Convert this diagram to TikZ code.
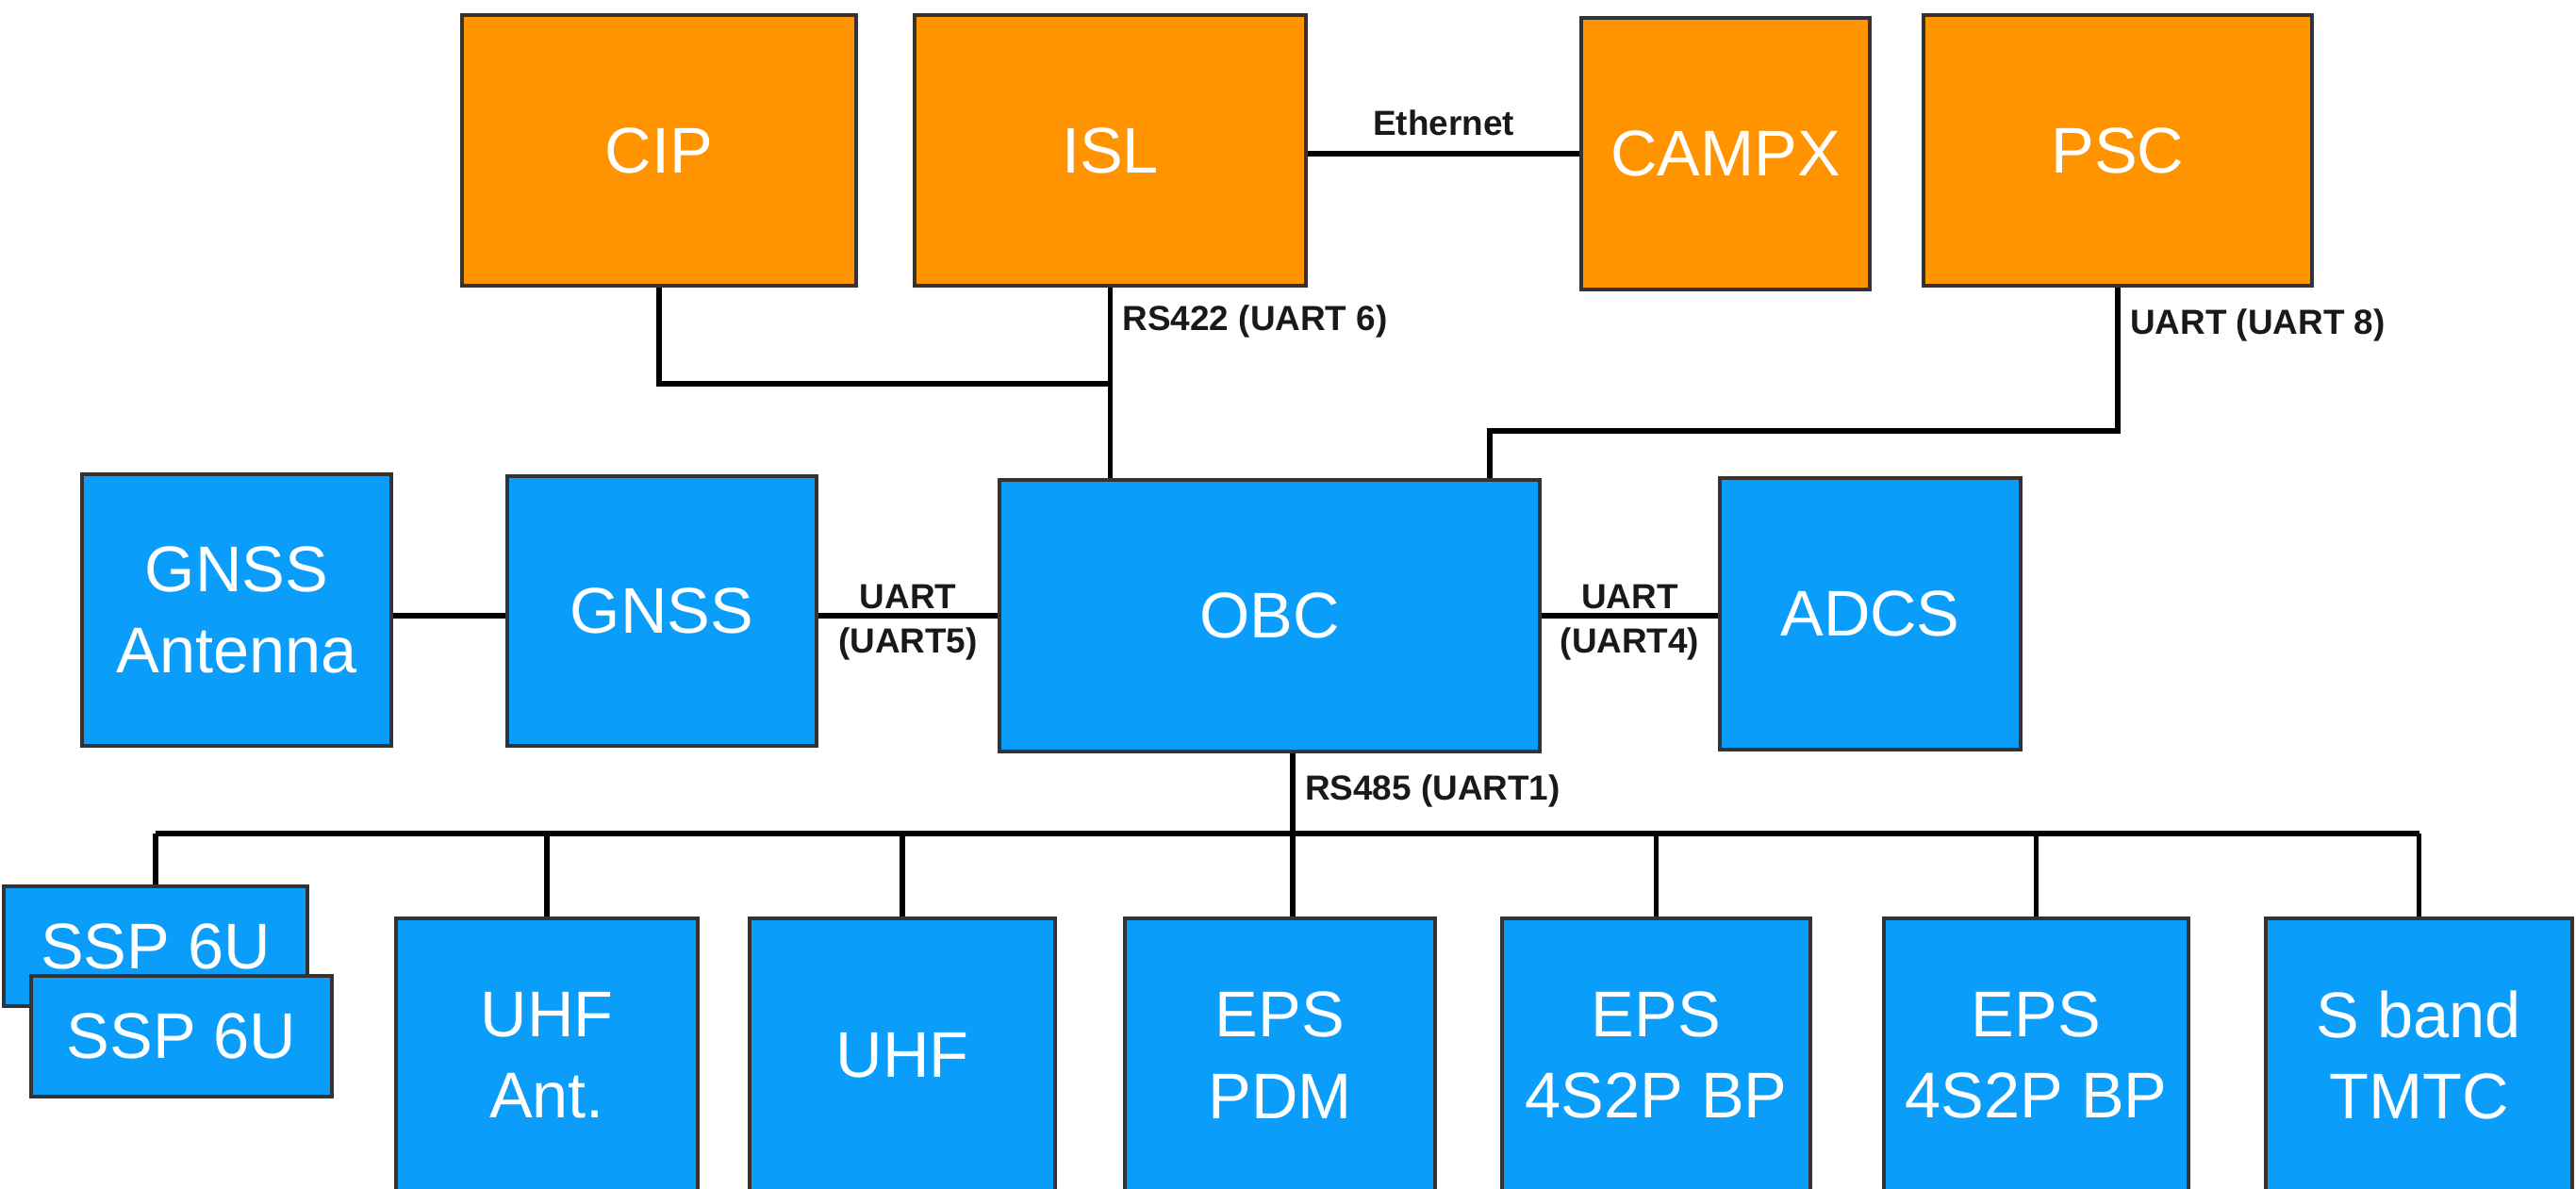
\documentclass[tikz,border=0pt]{standalone}
\usepackage{fontspec}
\setmainfont{Liberation Sans}
\usepackage{tikz}
\usetikzlibrary{positioning}
\definecolor{payloadorange}{RGB}{255,147,0}
\definecolor{platformblue}{RGB}{10,158,250}

\tikzset{
  unit/.style={draw=black!80, line width=1.1pt, text=white, align=center, inner sep=0pt,
    font=\fontsize{19.5}{24.5}\selectfont},
  payload/.style={unit, fill=payloadorange},
  platform/.style={unit, fill=platformblue},
  link/.style={line width=1.5pt, black},
  linklabel/.style={font=\fontsize{10.5}{13.4}\selectfont\bfseries, inner sep=1.5pt,
    align=center, text=black!90},
}

\begin{document}
\begin{tikzpicture}
  \useasboundingbox (0,0) rectangle (27.32,-12.60);
  \clip (0,0) rectangle (27.32,-12.60);
  % payload row
  \node[payload, minimum width=4.18cm, minimum height=2.87cm] (cip) at (6.99,-1.595) {CIP};
  \node[payload, minimum width=4.15cm, minimum height=2.87cm] (isl) at (11.775,-1.595) {ISL};
  \node[payload, minimum width=3.06cm, minimum height=2.88cm] (campx) at (18.30,-1.63) {CAMPX};
  \node[payload, minimum width=4.12cm, minimum height=2.87cm] (psc) at (22.46,-1.595) {PSC};
  % middle row
  \node[platform, minimum width=3.28cm, minimum height=2.88cm] (gnssant) at (2.51,-6.47) {GNSS\\Antenna};
  \node[platform, minimum width=3.28cm, minimum height=2.86cm] (gnss) at (7.02,-6.48) {GNSS};
  \node[platform, minimum width=5.73cm, minimum height=2.88cm] (obc) at (13.465,-6.53) {OBC};
  \node[platform, minimum width=3.19cm, minimum height=2.88cm] (adcs) at (19.835,-6.51) {ADCS};
  % bus row
  \node[platform, minimum width=3.22cm, minimum height=1.27cm] (sspA) at (1.65,-10.035) {SSP 6U};
  \node[platform, minimum width=3.19cm, minimum height=1.28cm] (sspB) at (1.925,-10.99) {SSP 6U};
  \node[platform, minimum width=3.20cm, minimum height=2.90cm] (uhfant) at (5.80,-11.19) {UHF\\Ant.};
  \node[platform, minimum width=3.24cm, minimum height=2.90cm] (uhf) at (9.57,-11.19) {UHF};
  \node[platform, minimum width=3.29cm, minimum height=2.90cm] (pdm) at (13.575,-11.19) {EPS\\PDM};
  \node[platform, minimum width=3.27cm, minimum height=2.90cm] (bpA) at (17.565,-11.19) {EPS\\4S2P BP};
  \node[platform, minimum width=3.23cm, minimum height=2.90cm] (bpB) at (21.595,-11.19) {EPS\\4S2P BP};
  \node[platform, minimum width=3.25cm, minimum height=2.90cm] (sband) at (25.655,-11.19) {S band\\TMTC};

  % links to the payloads
  \draw[link] (isl.east |- campx.west) -- node[linklabel, above=3.3pt] (eth) {Ethernet} (campx.west);
  \coordinate (cipjoin) at (isl.south |- 0,-4.07);
  \draw[link] (cip.south) |- (cipjoin);
  \draw[link] (isl.south) -- node[linklabel, pos=0.18, right=1.5pt] (rs422) {RS422 (UART 6)} (isl.south |- obc.north);
  \coordinate (pscjoin) at (15.80,-4.57);
  \draw[link] (psc.south) -- node[linklabel, pos=0.26, right=1.5pt] (uart8) {UART (UART 8)} (psc.south |- pscjoin)
    -| (pscjoin |- obc.north);

  % links on the middle row
  \draw[link] (gnssant.east |- obc.west) -- (gnss.west |- obc.west);
  \draw[link] (gnss.east |- obc.west) -- node[linklabel, yshift=-0.075cm] (uart5) {UART\\(UART5)} (obc.west);
  \draw[link] (obc.east) -- node[linklabel, yshift=-0.075cm] (uart4) {UART\\(UART4)} (adcs.west |- obc.east);

  % RS485 bus
  \coordinate (obcdrop) at ([xshift=0.245cm]obc.south);
  \coordinate (bus) at (0,-8.84);
  \draw[link] (obcdrop) -- node[linklabel, pos=0.23, right=1.5pt] (rs485) {RS485 (UART1)} (obcdrop |- pdm.north);
  \draw[link] (sspA.north |- bus) -- (sband.north |- bus);
  \foreach \n in {sspA,uhfant,uhf,bpA,bpB,sband}
    \draw[link] (\n.north |- bus) -- (\n.north);
\end{tikzpicture}
\end{document}
